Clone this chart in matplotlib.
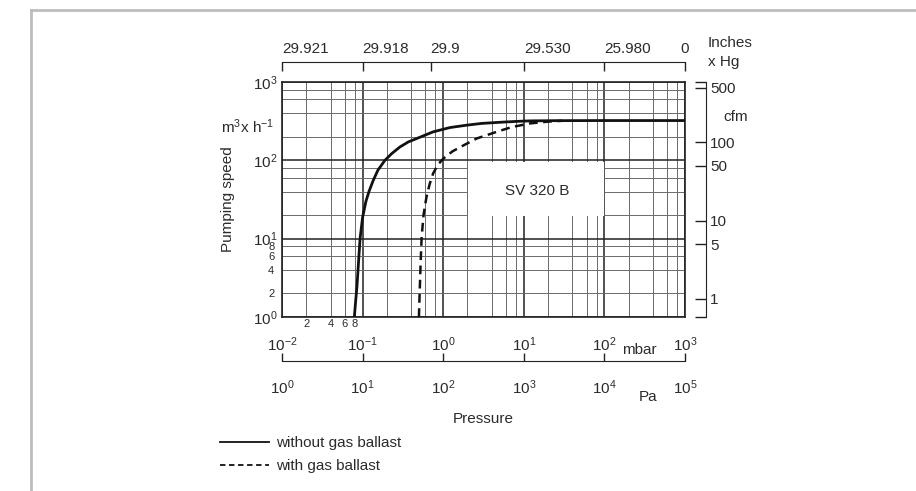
import matplotlib
matplotlib.use('Agg')
import matplotlib.pyplot as plt
from matplotlib.ticker import FixedLocator, LogLocator, NullLocator, NullFormatter, FuncFormatter
from matplotlib.patches import Rectangle
from matplotlib.lines import Line2D

plt.rcParams['font.family'] = ['Liberation Sans', 'DejaVu Sans']
plt.rcParams['mathtext.fontset'] = 'custom'
plt.rcParams['mathtext.rm'] = 'Liberation Sans'
plt.rcParams['mathtext.it'] = 'Liberation Sans:italic'
plt.rcParams['mathtext.bf'] = 'Liberation Sans:bold'

ink = '#2b2b2b'
fs = 11

# pressure in mbar, pumping speed in m3/h
solid_p = [0.079, 0.082, 0.085, 0.089, 0.093, 0.10, 0.11, 0.12, 0.135, 0.155, 0.189,
           0.23, 0.29, 0.37, 0.47, 0.75, 1.21, 1.95, 3.0, 5.07, 8.0, 12, 25, 100, 1000]
solid_s = [1, 1.6, 2.4, 5, 10, 18.7, 30, 40, 55, 75, 100,
           122, 148, 172, 190, 231, 262, 281, 296, 306, 314, 319, 321, 322, 322]
dashed_p = [0.50, 0.51, 0.525, 0.54, 0.57, 0.62, 0.68, 0.75, 0.86, 1.0,
            1.3, 1.78, 2.6, 4.6, 7.0, 11.9, 20, 30]
dashed_s = [1, 2, 5, 10.4, 20, 34, 50, 68, 88, 105,
            130, 155, 190, 231, 265, 296, 312, 320]

inhg_pos = [0.01, 0.1, 0.7, 10, 100, 1000]
inhg_labels = ['29.921', '29.918', '29.9', '29.530', '25.980', '0']
cfm_ticks = [1, 5, 10, 50, 100, 500]
cfm_per_m3h = 1 / 1.699
mbar_range = (1e-2, 1e3)
speed_range = (1, 1e3)
pa_range = (1, 1e5)

W, H = 916, 491
fig = plt.figure(figsize=(W / 100, H / 100), dpi=100)


def fx(px):
    return px / W


def fy(py):
    return 1 - py / H


def first_decade(lo):
    def fmt(v, pos):
        if lo < v < lo * 10:
            return f'{v / lo:.0f}'
        return ''
    return FuncFormatter(fmt)


ax = fig.add_axes([fx(282), fy(317), fx(685) - fx(282), fy(82) - fy(317)])
ax.set_xscale('log')
ax.set_yscale('log')
ax.set_xlim(*mbar_range)
ax.set_ylim(*speed_range)
ax.xaxis.set_minor_locator(LogLocator(base=10, subs=(2, 4, 6, 8), numticks=20))
ax.yaxis.set_minor_locator(LogLocator(base=10, subs=(2, 4, 6, 8), numticks=20))
ax.xaxis.set_minor_formatter(first_decade(mbar_range[0]))
ax.yaxis.set_minor_formatter(first_decade(speed_range[0]))
ax.grid(True, which='major', color='#222222', lw=1.1)
ax.grid(True, which='minor', color='#6a6a6a', lw=0.7)
ax.set_axisbelow(True)
for s in ax.spines.values():
    s.set_color('#222222')
    s.set_linewidth(1.2)
ax.tick_params(which='both', length=0, labelcolor=ink)
ax.tick_params(axis='x', which='major', pad=13.5, labelsize=fs)
ax.tick_params(axis='x', which='minor', pad=1.5, labelsize=8)
ax.tick_params(axis='y', which='major', pad=3, labelsize=fs)
ax.tick_params(axis='y', which='minor', pad=5.5, labelsize=8)

ax.plot(solid_p, solid_s, color='#111111', lw=2, zorder=4)
ax.plot(dashed_p, dashed_s, color='#111111', lw=1.8, ls=(0, (3.5, 2.2)), zorder=4)

ax.add_patch(Rectangle((2.03, 19.7), 100 - 2.03, 94 - 19.7, facecolor='white',
                       edgecolor='none', zorder=2))
ax.text(14.6, 41, 'SV 320 B', ha='center', va='center', fontsize=fs, color=ink, zorder=3)

# top scale: inches Hg
ax_top = ax.twiny()
ax_top.set_xscale('log')
ax_top.set_xlim(*mbar_range)
for s in ('left', 'right', 'bottom'):
    ax_top.spines[s].set_visible(False)
ax_top.spines['top'].set_position(('outward', 14.4))
ax_top.spines['top'].set_color('#222222')
ax_top.set_xticks(inhg_pos, inhg_labels)
for lab in ax_top.get_xticklabels()[:-1]:
    lab.set_horizontalalignment('left')
ax_top.xaxis.set_minor_locator(FixedLocator([inhg_pos[0], inhg_pos[-1]]))
ax_top.xaxis.set_minor_formatter(NullFormatter())
ax_top.tick_params(which='major', direction='in', length=6.5, width=1, pad=4,
                   labelsize=fs, labelcolor=ink, color='#222222')
ax_top.tick_params(which='minor', direction='in', length=10, width=1, color='#222222')

# bottom scale: Pa
ax_pa = ax.twiny()
ax_pa.xaxis.tick_bottom()
ax_pa.xaxis.set_label_position('bottom')
ax_pa.set_xscale('log')
ax_pa.set_xlim(*pa_range)
for s in ('left', 'right', 'top'):
    ax_pa.spines[s].set_visible(False)
ax_pa.spines['bottom'].set_position(('outward', 31.7))
ax_pa.spines['bottom'].set_color('#222222')
ax_pa.xaxis.set_major_locator(LogLocator(base=10, numticks=10))
ax_pa.xaxis.set_minor_locator(NullLocator())
ax_pa.tick_params(which='major', direction='in', length=6, width=1, pad=12.5,
                  labelsize=fs, labelcolor=ink, color='#222222')

# right scale: cfm
ax_r = ax.twinx()
ax_r.set_yscale('log')
ax_r.set_ylim(speed_range[0] * cfm_per_m3h, speed_range[1] * cfm_per_m3h)
for s in ('left', 'top', 'bottom'):
    ax_r.spines[s].set_visible(False)
ax_r.spines['right'].set_position(('outward', 15.1))
ax_r.spines['right'].set_color('#222222')
ax_r.set_yticks(cfm_ticks, [str(c) for c in cfm_ticks])
ax_r.yaxis.set_minor_locator(FixedLocator([speed_range[0] * cfm_per_m3h,
                                           speed_range[1] * cfm_per_m3h]))
ax_r.yaxis.set_minor_formatter(NullFormatter())
ax_r.tick_params(which='major', direction='in', length=8, width=1, pad=3,
                 labelsize=fs, labelcolor=ink, color='#222222')
ax_r.tick_params(which='minor', direction='in', length=8, width=1, color='#222222')

# unit labels
fig.text(fx(723), fy(117), 'cfm', ha='left', va='center', fontsize=fs, color=ink)
fig.text(fx(708), fy(43), 'Inches', ha='left', va='center', fontsize=fs, color=ink)
fig.text(fx(708), fy(62), 'x Hg', ha='left', va='center', fontsize=fs, color=ink)
fig.text(fx(639), fy(350), 'mbar', ha='center', va='center', fontsize=fs, color=ink)
fig.text(fx(648), fy(397), 'Pa', ha='center', va='center', fontsize=fs, color=ink)
fig.text(fx(483), fy(419), 'Pressure', ha='center', va='center', fontsize=fs, color=ink)
fig.text(fx(228), fy(199), 'Pumping speed', ha='center', va='center', rotation=90,
         fontsize=fs, color=ink)
fig.text(fx(248), fy(127), r'm$^3$x h$^{-1}$', ha='center', va='center',
         fontsize=fs, color=ink)

handles = [Line2D([], [], color='#111111', lw=1.3),
           Line2D([], [], color='#111111', lw=1.3, ls=(0, (3, 2)))]
fig.legend(handles, ['without gas ballast', 'with gas ballast'], loc='upper left',
           bbox_to_anchor=(fx(220), fy(436)), frameon=False, borderpad=0,
           borderaxespad=0, handlelength=3.2, handletextpad=0.45, labelspacing=0.6,
           fontsize=fs, labelcolor=ink)

# page frame
fig.add_artist(Line2D([fx(31), 1], [fy(10), fy(10)], transform=fig.transFigure,
                      color='#bdbdbd', lw=2))
fig.add_artist(Line2D([fx(31), fx(31)], [fy(10), 0], transform=fig.transFigure,
                      color='#bdbdbd', lw=2))

fig.savefig('out.png', dpi=100)
